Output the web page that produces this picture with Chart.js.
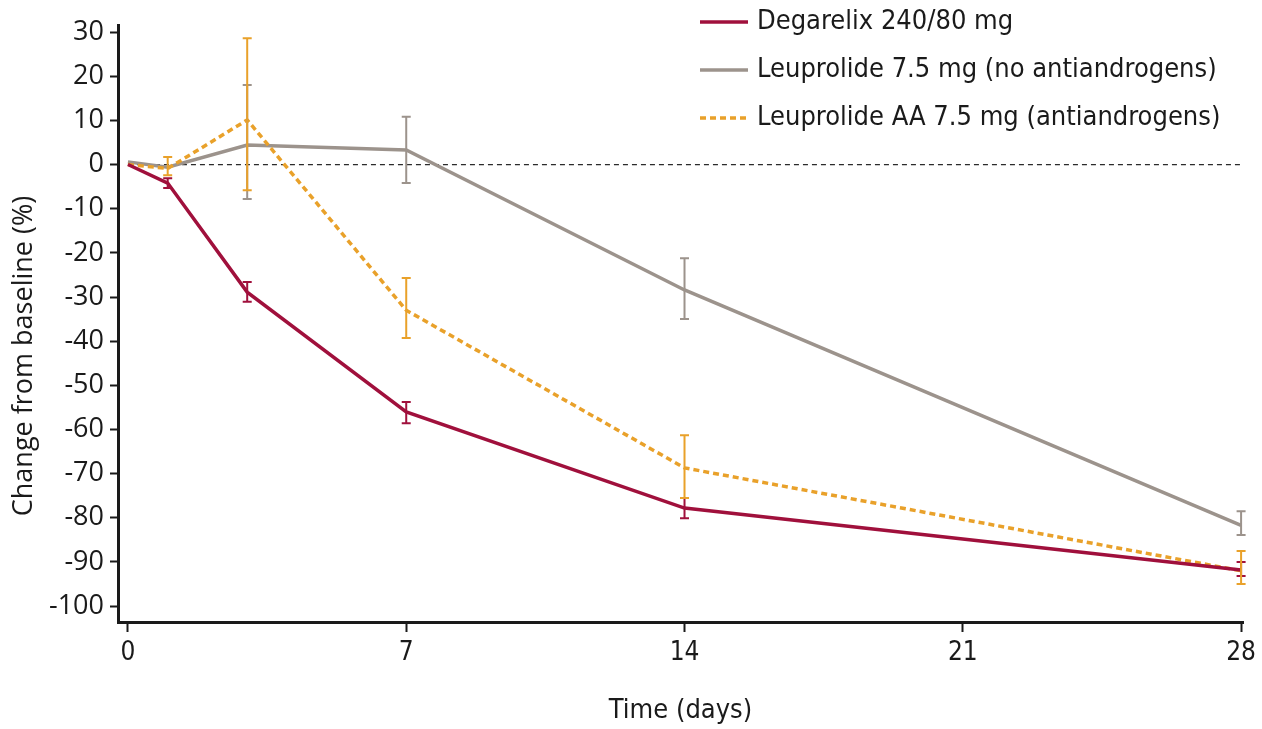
<!DOCTYPE html>
<html>
<head>
<meta charset="utf-8">
<title>Change from baseline over time</title>
<script src="https://cdn.jsdelivr.net/npm/chart.js@4.4.1/dist/chart.umd.min.js"></script>
<style>
  html, body { margin: 0; padding: 0; background: #ffffff; }
  #wrap { position: relative; width: 1262px; height: 729px; }
</style>
</head>
<body>
<div id="wrap"><canvas id="chart" width="1262" height="729"></canvas></div>
<script>
// Study days
const days = [0, 1, 3, 7, 14, 28];
const xTicks = [0, 7, 14, 21, 28];
const yTicks = [30, 20, 10, 0, -10, -20, -30, -40, -50, -60, -70, -80, -90, -100];
const yTitle = 'Change from baseline (%)';

// Degarelix 240/80 mg: mean and error bar limits (%)
const degarelixMean = [0, -4.2, -28.9, -56.0, -77.8, -91.8];
const degarelixLow  = [null, -5.3, -31.1, -58.6, -80.1, -93.2];
const degarelixHigh = [null, -3.1, -26.6, -53.8, -75.5, -90.0];

// Leuprolide 7.5 mg (no antiandrogens)
const leuprolideMean = [0.6, -0.6, 4.4, 3.3, -28.4, -81.7];
const leuprolideLow  = [null, null, -7.8, -4.2, -35.0, -83.9];
const leuprolideHigh = [null, null, 18.0, 10.8, -21.2, -78.5];

// Leuprolide AA 7.5 mg (antiandrogens)
const leuprolideAAMean = [0, -0.9, 10.1, -33.0, -68.7, -92.0];
const leuprolideAALow  = [null, -2.4, -5.8, -39.3, -75.5, -95.0];
const leuprolideAAHigh = [null, 1.7, 28.6, -25.7, -61.3, -87.5];

const labels = [
  'Degarelix 240/80 mg',
  'Leuprolide 7.5 mg (no antiandrogens)',
  'Leuprolide AA 7.5 mg (antiandrogens)'
];
const colors = ['#a0103c', '#9c938c', '#e9a12a'];

const toPoints = (ys) => days.map((d, i) => ({ x: d, y: ys[i] }));

// Vertical error bars with end caps
const errorBars = {
  id: 'errorBars',
  afterDatasetsDraw(chart) {
    const { ctx, scales: { x, y } } = chart;
    chart.data.datasets.forEach((ds) => {
      if (!ds.errLow) return;
      ctx.save();
      ctx.strokeStyle = ds.borderColor;
      ctx.lineWidth = 2;
      ctx.setLineDash([]);
      days.forEach((d, i) => {
        const lo = ds.errLow[i], hi = ds.errHigh[i];
        if (lo == null || hi == null) return;
        const px = x.getPixelForValue(d);
        const py1 = y.getPixelForValue(lo);
        const py2 = y.getPixelForValue(hi);
        ctx.beginPath();
        ctx.moveTo(px, py1); ctx.lineTo(px, py2);
        ctx.moveTo(px - 4.5, py1); ctx.lineTo(px + 4.5, py1);
        ctx.moveTo(px - 4.5, py2); ctx.lineTo(px + 4.5, py2);
        ctx.stroke();
      });
      ctx.restore();
    });
  }
};

// Legend in the upper right corner and the vertical axis title
const annotations = {
  id: 'annotations',
  afterDraw(chart) {
    const { ctx } = chart;
    const x0 = 700, len = 48, gap = 9;
    const rows = [22, 70, 118];
    ctx.save();
    ctx.font = '27px "Liberation Sans Narrow", "DejaVu Sans Condensed", sans-serif';
    ctx.textBaseline = 'middle';
    ctx.fillStyle = '#1a1a1a';
    chart.data.datasets.forEach((ds) => {
      if (ds.legendRow == null) return;
      const yy = rows[ds.legendRow];
      ctx.strokeStyle = ds.borderColor;
      ctx.lineWidth = 3.5;
      ctx.setLineDash(ds.borderDash || []);
      ctx.beginPath();
      ctx.moveTo(x0, yy); ctx.lineTo(x0 + len, yy);
      ctx.stroke();
      ctx.fillText(ds.label, x0 + len + gap, yy);
    });
    ctx.restore();

    ctx.save();
    ctx.translate(24, 356);
    ctx.rotate(-Math.PI / 2);
    ctx.font = '27px "Open Sans", "Liberation Sans", sans-serif';
    ctx.textAlign = 'center';
    ctx.textBaseline = 'middle';
    ctx.fillStyle = '#1a1a1a';
    ctx.fillText(yTitle, 0, 0);
    ctx.restore();
  }
};

new Chart(document.getElementById('chart'), {
  type: 'line',
  data: {
    datasets: [
      {
        label: labels[0], data: toPoints(degarelixMean),
        errLow: degarelixLow, errHigh: degarelixHigh, legendRow: 0,
        borderColor: colors[0], borderWidth: 3.5, pointRadius: 0, tension: 0, order: 1
      },
      {
        label: labels[1], data: toPoints(leuprolideMean),
        errLow: leuprolideLow, errHigh: leuprolideHigh, legendRow: 1,
        borderColor: colors[1], borderWidth: 3.5, pointRadius: 0, tension: 0, order: 3
      },
      {
        label: labels[2], data: toPoints(leuprolideAAMean),
        errLow: leuprolideAALow, errHigh: leuprolideAAHigh, legendRow: 2,
        borderColor: colors[2], borderWidth: 3.5, borderDash: [6, 4],
        pointRadius: 0, tension: 0, order: 2
      },
      {
        label: 'baseline', data: [{ x: 0, y: 0 }, { x: 28, y: 0 }],
        borderColor: '#2b2b2b', borderWidth: 1.3, borderDash: [5, 4],
        pointRadius: 0, order: 10
      }
    ]
  },
  options: {
    responsive: false,
    animation: false,
    layout: { padding: { top: 25, right: 17, left: 0, bottom: 0 } },
    plugins: { legend: { display: false }, tooltip: { enabled: false } },
    scales: {
      x: {
        type: 'linear', min: -0.25, max: 28.05,
        afterBuildTicks: (s) => { s.ticks = xTicks.map(v => ({ value: v })); },
        afterFit: (s) => { s.height = 107; },
        grid: { drawOnChartArea: false, drawTicks: true, tickLength: 10, tickWidth: 2, tickColor: '#1a1a1a' },
        border: { display: true, color: '#1a1a1a', width: 3 },
        ticks: {
          color: '#1a1a1a', padding: 6, maxRotation: 0,
          font: { family: '"Liberation Sans Narrow", "DejaVu Sans Condensed", sans-serif', size: 26 }
        },
        title: {
          display: true, text: 'Time (days)', color: '#1a1a1a',
          padding: { top: 0, bottom: 2 },
          font: { family: '"Liberation Sans Narrow", "DejaVu Sans Condensed", sans-serif', size: 27 }
        }
      },
      y: {
        type: 'linear', min: -103.6, max: 31.6,
        afterBuildTicks: (s) => { s.ticks = yTicks.map(v => ({ value: v })); },
        afterFit: (s) => { s.width = 118; },
        grid: { drawOnChartArea: false, drawTicks: true, tickLength: 8, tickWidth: 2, tickColor: '#1a1a1a' },
        border: { display: true, color: '#1a1a1a', width: 3 },
        ticks: {
          color: '#1a1a1a', padding: 6,
          font: { family: '"Open Sans", "Liberation Sans", sans-serif', size: 27 }
        },
        title: { display: false }
      }
    }
  },
  plugins: [errorBars, annotations]
});
</script>
</body>
</html>
